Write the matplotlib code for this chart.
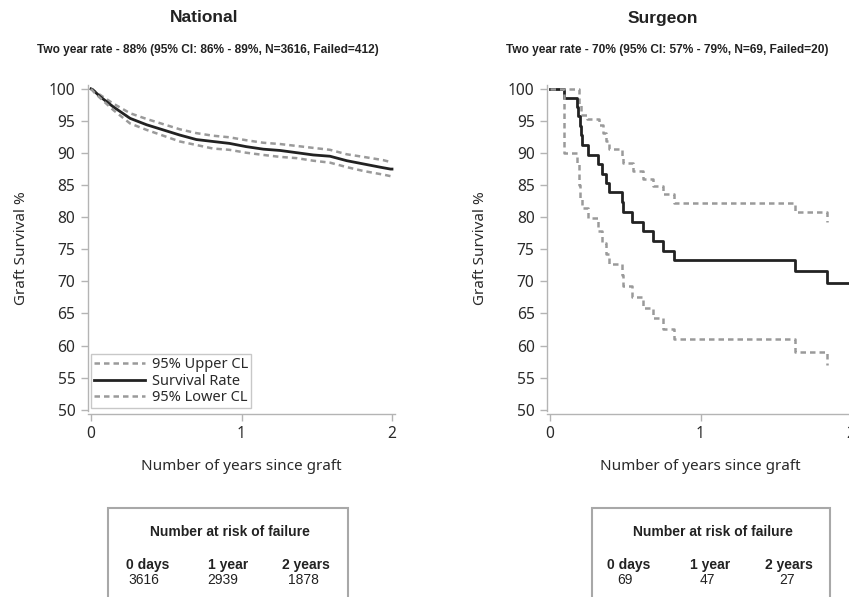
import matplotlib
matplotlib.use("Agg")
import matplotlib.pyplot as plt
from matplotlib.patches import Rectangle

# ---- data ----
nat_x = [0.0, 0.01, 0.06, 0.148, 0.26, 0.37, 0.48, 0.59, 0.70, 0.81, 0.92, 1.03,
         1.145, 1.256, 1.367, 1.477, 1.588, 1.70, 1.81, 1.92, 1.99, 2.0]
nat_surv = [100.0, 99.9, 98.8, 97.2, 95.4, 94.4, 93.6, 92.8, 92.1, 91.8, 91.5, 91.0,
            90.6, 90.4, 90.05, 89.7, 89.5, 88.8, 88.3, 87.8, 87.5, 87.5]
nat_up_x = [0.0, 0.148, 0.26, 0.37, 0.48, 0.59, 0.70, 0.81, 0.92, 1.03, 1.145,
            1.256, 1.367, 1.477, 1.588, 1.70, 1.81, 1.94, 1.99]
nat_up = [100.0, 97.7, 96.2, 95.3, 94.5, 93.7, 93.1, 92.7, 92.45, 92.0, 91.6,
          91.4, 91.1, 90.8, 90.5, 89.8, 89.4, 88.9, 88.6]
nat_lo_x = [0.0, 0.027, 0.148, 0.26, 0.37, 0.48, 0.59, 0.70, 0.81, 0.92, 1.03,
            1.145, 1.256, 1.367, 1.477, 1.588, 1.70, 1.81, 1.95, 1.99]
nat_lo = [100.0, 99.3, 96.7, 94.6, 93.6, 92.7, 91.8, 91.25, 90.7, 90.5, 90.05,
          89.7, 89.4, 89.2, 88.8, 88.5, 87.8, 87.2, 86.6, 86.4]

sur_x = [0.0, 0.09, 0.179, 0.188, 0.196, 0.204, 0.213, 0.253, 0.32, 0.347, 0.369,
         0.392, 0.477, 0.485, 0.544, 0.615, 0.682, 0.75, 0.823, 1.629, 1.839, 2.1]
sur_surv = [100.0, 98.5, 97.1, 95.7, 94.2, 92.8, 91.3, 89.7, 88.3, 86.8, 85.3,
            83.9, 82.3, 80.8, 79.3, 77.8, 76.3, 74.8, 73.3, 71.6, 69.7, 69.7]
sur_up_x = [0.0, 0.19, 0.205, 0.245, 0.324, 0.353, 0.369, 0.392, 0.477, 0.485,
            0.55, 0.615, 0.682, 0.75, 0.823, 1.629, 1.839]
sur_up = [100.0, 97.6, 96.0, 95.3, 94.3, 93.1, 91.8, 90.7, 89.6, 88.4,
          87.2, 86.0, 84.8, 83.6, 82.2, 80.8, 79.3]
sur_lo_x = [0.0, 0.09, 0.18, 0.19, 0.20, 0.213, 0.253, 0.32, 0.347, 0.369, 0.392,
            0.477, 0.485, 0.544, 0.615, 0.682, 0.75, 0.823, 1.629, 1.839]
sur_lo = [100.0, 90.0, 88.5, 85.0, 82.8, 81.4, 79.8, 77.9, 76.0, 74.3, 72.7,
          71.0, 69.3, 67.6, 65.9, 64.3, 62.6, 61.0, 59.0, 56.9]

titles = ["National", "Surgeon"]
subtitles = ["Two year rate - 88% (95% CI: 86% - 89%, N=3616, Failed=412)",
             "Two year rate - 70% (95% CI: 57% - 79%, N=69, Failed=20)"]
risk_headers = ["0 days", "1 year", "2 years"]
risk_national = ["3616", "2939", "1878"]
risk_surgeon = ["69", "47", "27"]

W, H = 849, 597
AX_FONT = "Noto Sans"
TXT_FONT = "Liberation Sans"
SPINE = "#b4b4b4"
CL_COL = "#9a9a9a"
LINE_COL = "#222222"

fig = plt.figure(figsize=(W / 100, H / 100), dpi=100)


def fx(px):
    return px / W


def fy(py):
    return 1 - py / H


def setup_axes(left_px):
    ax = fig.add_axes([fx(left_px), fy(411), 307 / W, 326 / H])
    ax.set_xlim(-0.02, 2.02)
    ax.set_ylim(49.8, 100.6)
    ax.set_xticks([0, 1, 2])
    ax.set_yticks(range(50, 101, 5))
    for s in ["top", "right"]:
        ax.spines[s].set_visible(False)
    for s in ["left", "bottom"]:
        ax.spines[s].set_color(SPINE)
        ax.spines[s].set_linewidth(1.0)
    ax.spines["bottom"].set_position(("outward", 2))
    ax.tick_params(colors=SPINE, labelcolor="#2a2a2a", length=5, width=1.0,
                   labelsize=11.2, pad=4)
    for lab in ax.get_xticklabels() + ax.get_yticklabels():
        lab.set_fontfamily(AX_FONT)
    ax.set_xlabel("Number of years since graft", family=AX_FONT, fontsize=11,
                  color="#2a2a2a", labelpad=12)
    ax.set_ylabel("Graft Survival %", family=AX_FONT, fontsize=11,
                  color="#2a2a2a", labelpad=14)
    return ax


dash = (0, (2.2, 1.6))

# ---- National ----
ax1 = setup_axes(88)
ax1.plot(nat_up_x, nat_up, color=CL_COL, lw=1.8, ls=dash, label="95% Upper CL")
ax1.plot(nat_x, nat_surv, color=LINE_COL, lw=2.0, label="Survival Rate")
ax1.plot(nat_lo_x, nat_lo, color=CL_COL, lw=1.8, ls=dash, label="95% Lower CL")
leg = ax1.legend(loc="lower left", prop={"family": AX_FONT, "size": 10.5},
                 frameon=True, fancybox=False, handlelength=3.5,
                 borderaxespad=0.2, borderpad=0.2, labelspacing=0.1,
                 handletextpad=0.5)
leg.get_frame().set_edgecolor("#bbbbbb")
leg.get_frame().set_linewidth(1.0)
for t in leg.get_texts():
    t.set_color("#2a2a2a")

# ---- Surgeon ----
ax2 = setup_axes(547)
ax2.plot(sur_up_x, sur_up, color=CL_COL, lw=1.8, ls=dash, drawstyle="steps-post")
ax2.plot(sur_x, sur_surv, color=LINE_COL, lw=2.0, drawstyle="steps-post")
ax2.plot(sur_lo_x, sur_lo, color=CL_COL, lw=1.8, ls=dash, drawstyle="steps-post")

# ---- titles ----
for cx, t in [(204, titles[0]), (663, titles[1])]:
    fig.text(fx(cx), fy(18), t, ha="center", va="center", family=TXT_FONT,
             fontweight="bold", fontsize=12.5, color="#222222")
for cx, st in [(208, subtitles[0]), (667, subtitles[1])]:
    fig.text(fx(cx), fy(50), st, ha="center", va="center", family=TXT_FONT,
             fontweight="bold", fontsize=8.6, color="#222222")

# ---- number at risk boxes ----
tables = [
    (108, 348, 230, [148, 228, 306], [144, 223, 303], risk_national),
    (592, 830, 713, [629, 710, 789], [625, 707, 787], risk_surgeon),
]
for x0, x1, tcx, hx, vx, vals in tables:
    fig.patches.append(Rectangle((fx(x0), fy(640)), (x1 - x0) / W, (640 - 508) / H,
                                 transform=fig.transFigure, fill=False,
                                 edgecolor="#a8a8a8", lw=1.5, clip_on=False))
    fig.text(fx(tcx), fy(532), "Number at risk of failure", ha="center",
             va="center", family=TXT_FONT, fontweight="bold", fontsize=10,
             color="#222222")
    for h, px in zip(risk_headers, hx):
        fig.text(fx(px), fy(565), h, ha="center", va="center", family=TXT_FONT,
                 fontweight="bold", fontsize=10, color="#222222")
    for v, px in zip(vals, vx):
        fig.text(fx(px), fy(580), v, ha="center", va="center", family=TXT_FONT,
                 fontsize=10, color="#222222")

fig.savefig("out.png", dpi=100)
